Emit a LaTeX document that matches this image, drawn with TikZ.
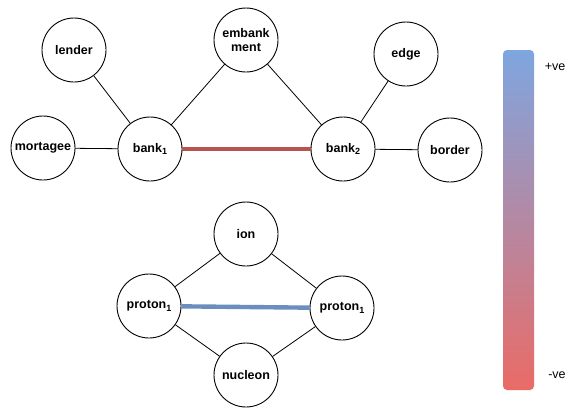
\documentclass[tikz,border=0pt]{standalone}
\usepackage{fontspec}
\setmainfont{Liberation Sans}
\usepackage{tikz}
\usetikzlibrary{arrows.meta, positioning}
\definecolor{negred}{RGB}{184,84,80}
\definecolor{posblue}{RGB}{108,142,191}
\definecolor{bartop}{RGB}{126,166,224}
\definecolor{barbot}{RGB}{234,107,102}
\newcommand{\idx}[1]{\raisebox{-2.6pt}{\fontsize{9}{9}\selectfont #1}}

\begin{document}
\begin{tikzpicture}[x=1pt, y=-1pt, line join=round, line cap=round]
   % Styles
   \tikzset{
    w/.style={circle, draw, line width=0.9pt, minimum size=64pt, inner sep=0pt, align=center,
      font=\fontsize{12.5}{13.5}\selectfont\bfseries},
    link/.style={line width=0.8pt, black},
    neglink/.style={line width=4.4pt, negred, line cap=butt},
    poslink/.style={line width=4.4pt, posblue, line cap=butt},
    bar/.style={minimum width=31pt, minimum height=340pt, inner sep=0pt, rounded corners=4pt,
      top color=bartop, bottom color=barbot},
    tag/.style={font=\fontsize{12.5}{13.5}\selectfont}
   }
  \useasboundingbox (0,0) rectangle (570,407);
  % Nodes (bank)
  \node[w] (lender)   at (74,50)   {lender};
  \node[w] (emb)      at (246,40)  {embank\\ment};
  \node[w] (edge)     at (406,54)  {edge};
  \node[w] (mort)     at (43,148)  {mortagee};
  \node[w] (bankA)    at (150,149) {bank\idx{1}};
  \node[w] (bankB)    at (343,149) {bank\idx{2}};
  \node[w] (border)   at (450,150) {border};
  % Nodes (proton)
  \node[w] (ion)      at (246,234) {ion};
  \node[w] (protA)    at (149,306) {proton\idx{1}};
  \node[w] (protB)    at (342,308) {proton\idx{1}};
  \node[w] (nucleon)  at (246,375) {nucleon};
  % Colour bar
  \node[bar] (scale) at (518.5,220) {};
  \node[tag] (plus)  at (555,67)  {+ve};
  \node[tag] (minus) at (557,375) {-ve};
  % Edges
  \draw[link] (lender)--(bankA);
  \draw[link] (mort)--(bankA);
  \draw[link] (bankA)--(emb)--(bankB);
  \draw[link] (edge)--(bankB)--(border);
  \draw[neglink] (bankA)--(bankB);
  \draw[link] (protA)--(ion)--(protB);
  \draw[link] (protA)--(nucleon)--(protB);
  \draw[poslink] (protA)--(protB);
\end{tikzpicture}
\end{document}
